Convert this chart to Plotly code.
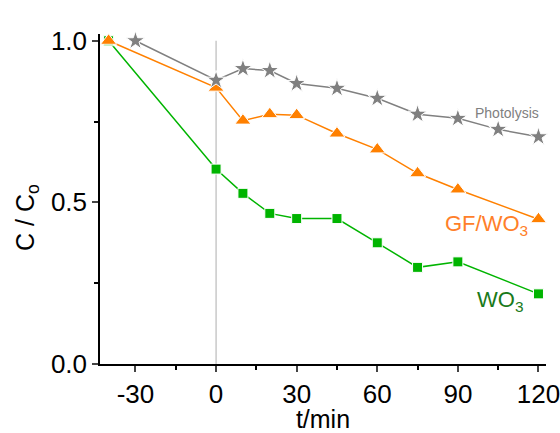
import plotly.graph_objects as go

# Data
t_photo = [-30, 0, 10, 20, 30, 45, 60, 75, 90, 105, 120]
c_photo = [1.0, 0.878, 0.914, 0.908, 0.868, 0.853, 0.822, 0.773, 0.760, 0.726, 0.703]

t_gf = [-40, 0, 10, 20, 30, 45, 60, 75, 90, 120]
c_gf = [1.0, 0.855, 0.753, 0.773, 0.770, 0.713, 0.664, 0.590, 0.540, 0.448]

t_wo3 = [-40, 0, 10, 20, 30, 45, 60, 75, 90, 120]
c_wo3 = [1.0, 0.603, 0.528, 0.466, 0.450, 0.450, 0.375, 0.299, 0.316, 0.217]

x_ticks = [-30, 0, 30, 60, 90, 120]
x_ticktext = ["-30", "0", "30", "60", "90", "120"]
y_ticks = [0.0, 0.5, 1.0]

GRAY = "#808080"
ORANGE = "#ff8000"
GREEN = "#00b400"
FONT = "Liberation Sans, Arial, sans-serif"

fig = go.Figure()
fig.add_trace(go.Scatter(x=t_wo3, y=c_wo3, mode="lines+markers",
                         line=dict(color=GREEN, width=1.5),
                         marker=dict(symbol="square", size=10, color=GREEN,
                                     line=dict(color="white", width=1)),
                         cliponaxis=False, showlegend=False))
fig.add_trace(go.Scatter(x=t_gf, y=c_gf, mode="lines+markers",
                         line=dict(color=ORANGE, width=1.5),
                         marker=dict(symbol="triangle-up", size=14, color=ORANGE,
                                     line=dict(color="white", width=1)),
                         cliponaxis=False, showlegend=False))
fig.add_trace(go.Scatter(x=t_photo, y=c_photo, mode="lines+markers",
                         line=dict(color=GRAY, width=1.5),
                         marker=dict(symbol="star", size=14, color=GRAY,
                                     line=dict(color="white", width=1)),
                         cliponaxis=False, showlegend=False))

fig.add_shape(type="line", x0=0, x1=0, y0=0, y1=1.0, xref="x", yref="y",
              line=dict(color="#bbbbbb", width=1.2), layer="below")

ann = [
    dict(x=-18.6, y=1.067, text="Dark", font=dict(size=15, color=GRAY)),
    dict(x=21.2, y=1.067, text="Light", font=dict(size=15, color=GRAY)),
    dict(x=108.3, y=0.776, text="Photolysis", font=dict(size=14, color=GRAY)),
    dict(x=100.5, y=0.43, text="GF/WO<sub>3</sub>", font=dict(size=22, color="#ff7f2a")),
    dict(x=105.5, y=0.195, text="WO<sub>3</sub>", font=dict(size=22, color="#1a7a1a")),
]
for a in ann:
    fig.add_annotation(xref="x", yref="y", showarrow=False, **a)

# y-axis title as rotated annotation
fig.add_annotation(xref="paper", yref="paper", x=0, y=0.5, xanchor="center",
                   yanchor="middle", xshift=-73, yshift=-19,
                   text="C / C<sub>o</sub>", textangle=-90, showarrow=False,
                   font=dict(size=25, color="black"))

fig.update_layout(
    width=560, height=433,
    margin=dict(l=100, r=14, t=34, b=69),
    plot_bgcolor="white", paper_bgcolor="white",
    font=dict(family=FONT, size=26, color="black"),
    xaxis=dict(range=[-43.2, 122.8], tickvals=x_ticks, ticktext=x_ticktext,
               ticks="outside", ticklen=6, automargin=False, ticklabeloverflow="allow",
               tickwidth=1.5, showline=True, linecolor="black", linewidth=1.5,
               showgrid=False, zeroline=False, tickfont=dict(size=26),
               minor=dict(tickvals=[-15, 15, 45, 75, 105], ticks="outside", ticklen=4,
                          tickwidth=1.5, tickcolor="black", showgrid=False),
               title=dict(text="t/min", font=dict(size=25))),
    yaxis=dict(range=[0, 1.021], tickvals=y_ticks, tickformat=".1f", ticks="outside",
               ticklen=6, tickwidth=1.5, showline=True, linecolor="black", linewidth=1.5,
               automargin=False, ticklabeloverflow="allow",
               showgrid=False, zeroline=False, tickfont=dict(size=26),
               minor=dict(tickvals=[0.25, 0.75], ticks="outside", ticklen=4,
                          tickwidth=1.5, tickcolor="black", showgrid=False)),
)

fig.write_html("out.html", config={"displayModeBar": False},
               post_script="document.body.style.margin='0';document.body.style.overflow='hidden';")
